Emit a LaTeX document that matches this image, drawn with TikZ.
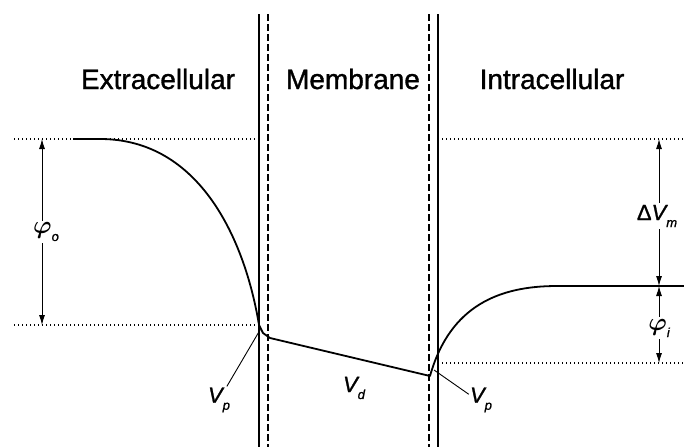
\documentclass[tikz,border=0pt]{standalone}
\usepackage{amsmath}
\usepackage{fontspec}
\setmainfont{Liberation Sans}
\newfontfamily\heavyfont{Liberation Sans}[FakeBold=1.2]
\usepackage{tikz}
\usetikzlibrary{arrows.meta}

\newcommand{\subit}[1]{\raisebox{-0.6ex}{\fontsize{13}{13}\selectfont\itshape #1}}
\newcommand{\bigphi}{{\fontsize{32}{32}\selectfont$\boldsymbol{\varphi}$}}

\begin{document}
\begin{tikzpicture}[x=1pt, y=-1pt, line join=round,
    region/.style={font=\heavyfont\fontsize{28}{30}\selectfont},
    memline/.style={line width=1.8pt},
    memdash/.style={line width=1.8pt, dash pattern=on 7pt off 3pt},
    guide/.style={line width=1.1pt, dash pattern=on 1.1pt off 2.9pt},
    potential/.style={line width=1.8pt},
    dimarrow/.style={line width=0.9pt, {Latex[length=10pt,width=6pt]}-{Latex[length=10pt,width=6pt]}},
    leader/.style={line width=0.9pt},
    sym/.style={font=\heavyfont\fontsize{22}{24}\selectfont\itshape, inner sep=1pt},
    gap/.style={sym, fill=white, inner sep=2pt}]

    \useasboundingbox (0,0) rectangle (684,447);

    \node[region] (ext) at (158,79) {Extracellular};
    \node[region] (mem) at (353,79) {Membrane};
    \node[region] (int) at (552,79) {Intracellular};

    \draw[memline] (259,14) -- (259,447);
    \draw[memdash] (268,14) -- (268,447);
    \draw[memdash] (429,14) -- (429,447);
    \draw[memline] (438,14) -- (438,447);

    \draw[guide] (14,139) -- (259,139);
    \draw[guide] (14,325) -- (259,325);
    \draw[guide] (438,139) -- (684,139);
    \draw[guide] (438,363) -- (684,363);

    \draw[potential] (73,139) -- (100,139) .. controls (200,139) and (245,240) .. (259,325)
        -- (263,333) -- (270,338) -- (430,376)
        .. controls (450,305) and (500,286) .. (557,286) -- (684,286);

    \coordinate (otop) at (42,139);
    \coordinate (obot) at (42,325);
    \coordinate (mtop) at (659,139);
    \coordinate (mmid) at (659,286);
    \coordinate (ibot) at (659,363);
    \draw[dimarrow] (otop) -- (obot);
    \draw[dimarrow] (mtop) -- (mmid);
    \draw[dimarrow] (mmid) -- (ibot);
    \node[gap] (phio) at (46,232) {\bigphi\subit{o}};
    \node[gap] (dvm) at (657,216) {{\upshape Δ}V\subit{m}};
    \node[gap] (phii) at (659,328) {\bigphi\subit{i}};

    \coordinate (vpltip) at (260,330);
    \coordinate (vprtip) at (434,370);
    \node[sym] (vpl) at (219,400) {V\subit{p}};
    \node[sym] (vd) at (354,388) {V\subit{d}};
    \node[sym] (vpr) at (481,400) {V\subit{p}};
    \draw[leader] (vpl.60) -- (vpltip);
    \draw[leader] (vpr.155) -- (vprtip);
\end{tikzpicture}
\end{document}
